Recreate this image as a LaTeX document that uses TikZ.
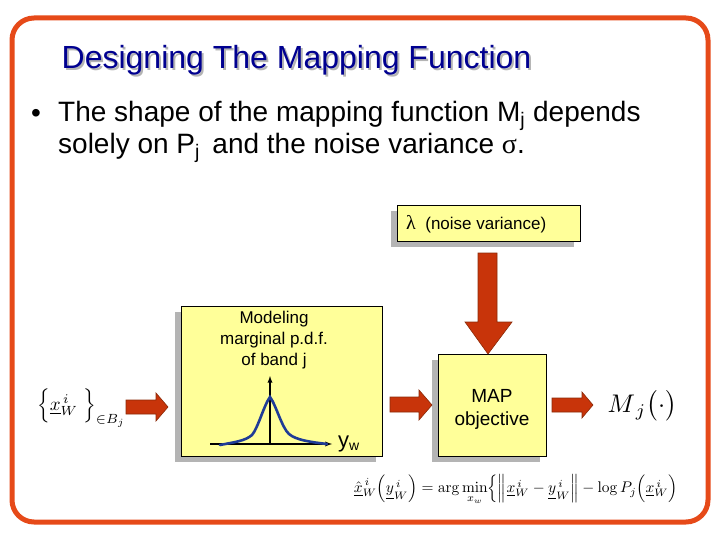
\documentclass[tikz,border=0pt]{standalone}
\usepackage[no-math]{fontspec}
\setmainfont{Liberation Sans}
\newfontfamily\symserif{Liberation Serif}
\usetikzlibrary{shadows,calc}
\definecolor{frameorange}{HTML}{E64A19}
\definecolor{titleblue}{HTML}{000090}
\definecolor{boxyellow}{HTML}{FFFF99}
\definecolor{shadowgray}{HTML}{B4B4B4}
\definecolor{arrowred}{HTML}{C8340A}
\definecolor{arrowedge}{HTML}{8A2A08}
\definecolor{curveblue}{HTML}{1F3C96}
\tikzset{
  yellowbox/.style={draw=black, line width=0.8pt, fill=boxyellow, inner sep=0pt,
    drop shadow={shadow xshift=-6pt, shadow yshift=-6pt, fill=shadowgray, opacity=1}},
  blockarrow/.style={fill=arrowred, draw=arrowedge, line width=0.6pt},
  boxtext/.style={font=\fontsize{17}{21}\selectfont, align=center, inner sep=0pt},
  mathnode/.style={inner sep=0pt, transform shape, scale=#1},
}
\begin{document}
\begin{tikzpicture}[x=1pt,y=-1pt]
\useasboundingbox (0,0) rectangle (720,540);
% frame
\draw[frameorange, line width=5pt, rounded corners=22pt] (12,18) rectangle (708,522);
% title
\node[anchor=west, inner sep=0pt, text=shadowgray, font=\fontsize{32}{36}\selectfont] at (63.5,62) {Designing The Mapping Function};
\node (title) [anchor=west, inner sep=0pt, text=titleblue, font=\fontsize{32}{36}\selectfont] at (61.5,60) {Designing The Mapping Function};
% bullet
\node (bul) [anchor=west, inner sep=0pt, font=\fontsize{28}{32}\selectfont] at (31,116) {•};
\node (line1) [anchor=west, inner sep=0pt, font=\fontsize{28}{32}\selectfont] at (58,116) {The shape of the mapping function M\textsubscript{j} depends};
\node (line2) [anchor=west, inner sep=0pt, font=\fontsize{28}{32}\selectfont] at (58,148) {solely on P\textsubscript{j}\, and the noise variance {\symserif σ}.};
% lambda box
\node (lam) [yellowbox, minimum width=183pt, minimum height=36pt] at (488.5,223) {};
\node (lamtxt) [anchor=west, inner sep=0pt, font=\fontsize{17}{21}\selectfont] at (406,224) {{\symserif\fontsize{20}{22}\selectfont λ}\ \ (noise variance)};
% modeling box
\node (mod) [yellowbox, minimum width=201pt, minimum height=150pt] at (281.5,381) {};
\node (modtxt) [boxtext, anchor=north] at (274,311) {Modeling\\marginal p.d.f.\\of band j};
\coordinate (o) at (270,444);
\draw[line width=1.3pt, -latex] (210,444) -- (332,444);
\draw[line width=1.3pt, -latex] (o) -- (270,376);
\draw[curveblue, line width=2.6pt, line cap=round] (220,445) .. controls (235,442) and (245,441) .. (252,435) .. controls (258,428) and (264,405) .. (270,397) .. controls (276,405) and (282,428) .. (289,434) .. controls (296,440) and (310,442) .. (327,444);
\node (yw) [anchor=west, inner sep=0pt, font=\fontsize{22}{26}\selectfont] at (338,444) {y\textsubscript{\fontsize{14}{16}\selectfont w}};
% MAP box
\node (map) [yellowbox, minimum width=108pt, minimum height=102pt] at (492,405) {};
\node (maptxt) [boxtext, font=\fontsize{19}{23}\selectfont] at (492,409) {MAP\\objective};
% set notation
\node (set) [mathnode=1.9, anchor=east] at (126,408) {$\Bigl\{\underline{x}^{\,i}_{W}\ \Bigr\}_{\in B_j}$};
% output
\node (mj) [mathnode=2.55, anchor=west] at (607,406) {$M_{\,j}\bigl(\cdot\bigr)$};
% formula
\node (eq) [mathnode=1.54, anchor=east] at (678,490) {$\underline{\hat{x}}^{\,i}_{W}\Bigl(\underline{y}^{\,i}_{W}\Bigr) = \arg\min\limits_{x_w}\Bigl\{\Bigl\|\underline{x}^{\,i}_{W}-\underline{y}^{\,i}_{W}\Bigr\| - \log P_j\Bigl(\underline{x}^{\,i}_{W}\Bigr)$};
% block arrows
\draw[blockarrow] (126,400) -- (156,400) -- (156,393) -- (168,407) -- (156,421) -- (156,414) -- (126,414) -- cycle;
\draw[blockarrow] (390,397) -- (419,397) -- (419,390) -- (432,405) -- (419,420) -- (419,412) -- (390,412) -- cycle;
\draw[blockarrow] (552,398) -- (582,398) -- (582,392) -- (593,405) -- (582,418) -- (582,412) -- (552,412) -- cycle;
\draw[blockarrow] (478,253) -- (497,253) -- (497,322) -- (512,322) -- (488,354) -- (465,322) -- (478,322) -- cycle;
\end{tikzpicture}
\end{document}
